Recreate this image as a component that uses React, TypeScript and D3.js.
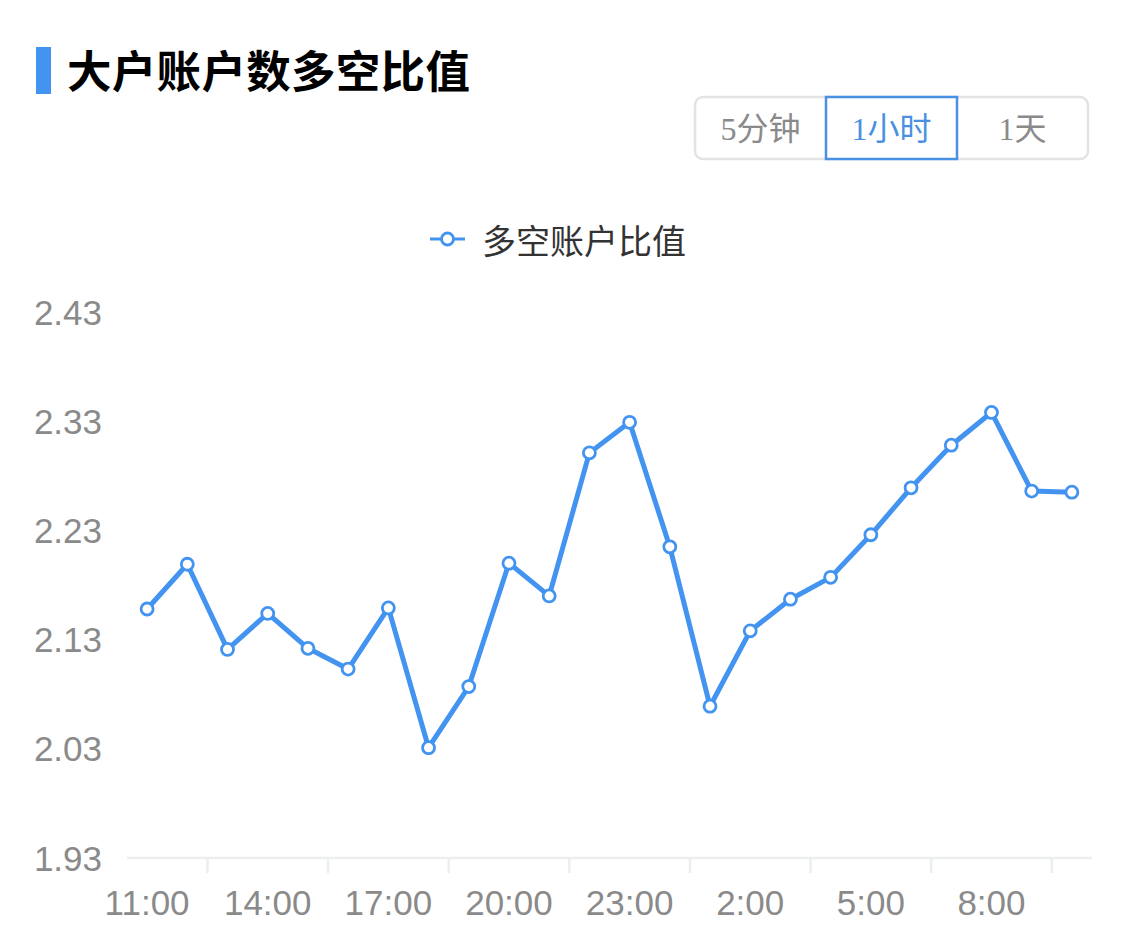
import React, { useEffect, useRef } from "react";
import * as d3 from "d3";

// Hourly long/short account ratio of large holders
const hours: string[] = [
  "11:00", "12:00", "13:00", "14:00", "15:00", "16:00", "17:00", "18:00",
  "19:00", "20:00", "21:00", "22:00", "23:00", "0:00", "1:00", "2:00",
  "3:00", "4:00", "5:00", "6:00", "7:00", "8:00", "9:00", "10:00",
];
const ratios: number[] = [
  2.158, 2.199, 2.121, 2.154, 2.122, 2.103, 2.159, 2.031,
  2.087, 2.2, 2.17, 2.301, 2.329, 2.215, 2.069, 2.138,
  2.167, 2.187, 2.226, 2.269, 2.308, 2.338, 2.266, 2.265,
];
const yTicks: number[] = [1.93, 2.03, 2.13, 2.23, 2.33, 2.43];
const periods: string[] = ["5分钟", "1小时", "1天"];
const activePeriod = "1小时";
const title = "大户账户数多空比值";
const seriesName = "多空账户比值";

const W = 1125;
const H = 952;
const BLUE = "#4393f0";
const CJK = "'Noto Sans CJK SC', 'Noto Sans', sans-serif";
const NUM = "'Liberation Sans', Arial, 'Noto Sans CJK SC', sans-serif";

export default function App() {
  const ref = useRef<SVGSVGElement | null>(null);

  useEffect(() => {
    const svg = d3.select(ref.current);
    svg.selectAll("*").remove();

    // header
    svg.append("rect").attr("x", 36).attr("y", 47).attr("width", 15).attr("height", 47).attr("fill", BLUE);
    svg.append("text")
      .attr("x", 67).attr("y", 68)
      .attr("dominant-baseline", "central")
      .attr("font-family", CJK).attr("font-size", 44.5).attr("font-weight", 700)
      .attr("letter-spacing", 0.3)
      .attr("fill", "#000")
      .text(title);

    // period switch
    const bx = 695, by = 97, bw = 131, bh = 62;
    const sw = svg.append("g");
    sw.append("rect")
      .attr("x", bx).attr("y", by).attr("width", bw * periods.length).attr("height", bh)
      .attr("rx", 8).attr("fill", "#fff").attr("stroke", "#e3e3e3").attr("stroke-width", 2.5);
    periods.forEach((p, i) => {
      const active = p === activePeriod;
      if (active) {
        sw.append("rect")
          .attr("x", bx + i * bw).attr("y", by).attr("width", bw).attr("height", bh)
          .attr("fill", "#fff").attr("stroke", "#4a90e2").attr("stroke-width", 2.5);
      }
      sw.append("text")
        .attr("x", bx + i * bw + bw / 2).attr("y", by + bh / 2 + 1)
        .attr("text-anchor", "middle").attr("dominant-baseline", "central")
        .attr("font-family", "'Liberation Serif', 'Noto Sans CJK SC', serif")
        .attr("font-size", 32)
        .attr("fill", active ? "#4a90e2" : "#8a8a8a")
        .text(p);
    });

    // legend
    const lg = svg.append("g");
    lg.append("line").attr("x1", 430).attr("x2", 465).attr("y1", 239).attr("y2", 239)
      .attr("stroke", BLUE).attr("stroke-width", 3);
    lg.append("circle").attr("cx", 447.5).attr("cy", 239).attr("r", 6)
      .attr("fill", "#fff").attr("stroke", BLUE).attr("stroke-width", 2.8);
    lg.append("text").attr("x", 482).attr("y", 239)
      .attr("dominant-baseline", "central")
      .attr("font-family", CJK).attr("font-size", 34).attr("fill", "#333")
      .text(seriesName);

    // scales
    const x = d3.scaleBand<string>().domain(hours).range([127, 1092]);
    const y = d3.scaleLinear().domain([1.93, 2.43]).range([858, 312]);

    // y labels
    svg.append("g").selectAll("text").data(yTicks).join("text")
      .attr("x", 102).attr("y", (d) => y(d))
      .attr("text-anchor", "end").attr("dominant-baseline", "central")
      .attr("font-family", NUM).attr("font-size", 35).attr("fill", "#8a8a8a")
      .text((d) => d.toFixed(2));

    // x axis line, ticks and labels
    const axisColor = "#eceef0";
    svg.append("line").attr("x1", 127).attr("x2", 1092).attr("y1", 858).attr("y2", 858)
      .attr("stroke", axisColor).attr("stroke-width", 2.5);
    const tickIdx = d3.range(2, hours.length, 3);
    svg.append("g").selectAll("line").data(tickIdx).join("line")
      .attr("x1", (i) => (x(hours[i]) as number)).attr("x2", (i) => (x(hours[i]) as number))
      .attr("y1", 858).attr("y2", 873)
      .attr("stroke", axisColor).attr("stroke-width", 2.5);
    const labelIdx = d3.range(0, hours.length, 3);
    svg.append("g").selectAll("text").data(labelIdx).join("text")
      .attr("x", (i) => (x(hours[i]) as number) + x.bandwidth() / 2)
      .attr("y", 902)
      .attr("text-anchor", "middle").attr("dominant-baseline", "central")
      .attr("font-family", NUM).attr("font-size", 35).attr("fill", "#8a8a8a")
      .text((i) => hours[i]);

    // series
    const cx = (i: number) => (x(hours[i]) as number) + x.bandwidth() / 2;
    const line = d3.line<number>().x((_, i) => cx(i)).y((d) => y(d));
    svg.append("path").datum(ratios).attr("d", line)
      .attr("fill", "none").attr("stroke", BLUE).attr("stroke-width", 5)
      .attr("stroke-linejoin", "round");
    svg.append("g").selectAll("circle").data(ratios).join("circle")
      .attr("cx", (_, i) => cx(i)).attr("cy", (d) => y(d)).attr("r", 6)
      .attr("fill", "#fff").attr("stroke", BLUE).attr("stroke-width", 2.8);
  }, []);

  return (
    <div style={{ position: "absolute", left: 0, top: 0, width: W, height: H, background: "#fff" }}>
      <svg ref={ref} width={W} height={H} style={{ display: "block" }} />
    </div>
  );
}
